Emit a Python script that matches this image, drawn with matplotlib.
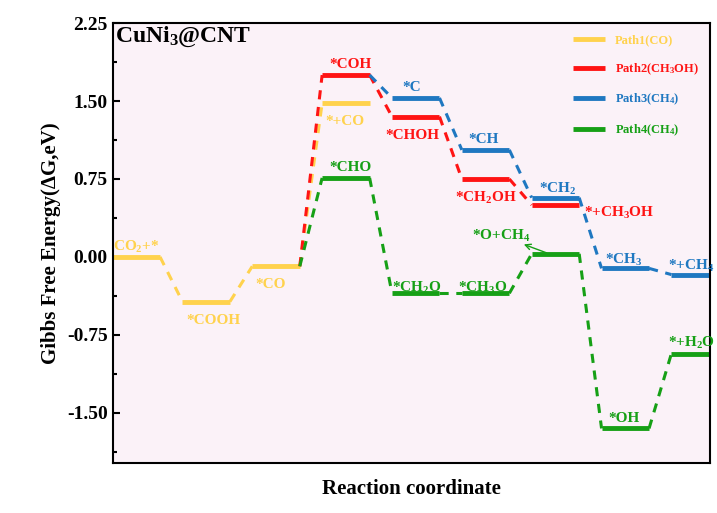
import matplotlib.pyplot as plt

plt.rcParams['font.family'] = 'Liberation Serif'
plt.rcParams['font.weight'] = 'bold'
plt.rcParams['axes.labelweight'] = 'bold'
plt.rcParams['axes.unicode_minus'] = False
plt.rcParams['mathtext.fontset'] = 'custom'
plt.rcParams['mathtext.rm'] = 'Liberation Serif:bold'
plt.rcParams['mathtext.it'] = 'Liberation Serif:bold'
plt.rcParams['mathtext.bf'] = 'Liberation Serif:bold'

# slot index of each level, energies (eV), labels
path1_slots = [0, 1, 2, 3]
path1_vals = [0.00, -0.43, -0.09, 1.48]
path1_labels = ['CO$_2$+*', '*COOH', '*CO', '*+CO']

path2_slots = [2, 3, 4, 5, 6]
path2_vals = [-0.09, 1.75, 1.35, 0.75, 0.50]
path2_labels = [None, '*COH', '*CHOH', '*CH$_2$OH', '*+CH$_3$OH']

path3_slots = [3, 4, 5, 6, 7, 8]
path3_vals = [1.75, 1.53, 1.03, 0.57, -0.11, -0.17]
path3_labels = [None, '*C', '*CH', '*CH$_2$', '*CH$_3$', '*+CH$_4$']

path4_slots = [2, 3, 4, 5, 6, 7, 8]
path4_vals = [-0.09, 0.76, -0.35, -0.35, 0.03, -1.65, -0.93]
path4_labels = [None, '*CHO', '*CH$_2$O', '*CH$_3$O', '*O+CH$_4$', '*OH', '*+H$_2$O']

colors = ['#ffd24d', '#ff1414', '#1f78c1', '#16a016']
names = ['Path1(CO)', 'Path2(CH$_3$OH)', 'Path3(CH$_4$)', 'Path4(CH$_4$)']
W = 0.68

# label offsets (dx, dy) relative to level start / value
offs = {
    'CO$_2$+*': (0.0, 0.10), '*COOH': (0.05, -0.18), '*CO': (0.05, -0.18), '*+CO': (0.05, -0.18),
    '*COH': (0.1, 0.10), '*CHOH': (-0.1, -0.18), '*CH$_2$OH': (-0.1, -0.18), '*+CH$_3$OH': (0.75, -0.08),
    '*C': (0.15, 0.10), '*CH': (0.1, 0.10), '*CH$_2$': (0.1, 0.08), '*CH$_3$': (0.05, 0.08),
    '*+CH$_4$': (-0.05, 0.08),
    '*CHO': (0.1, 0.10), '*CH$_2$O': (0.0, 0.05), '*CH$_3$O': (-0.05, 0.05), '*O+CH$_4$': (-0.85, 0.17),
    '*OH': (0.1, 0.10), '*+H$_2$O': (-0.05, 0.10),
}

fig, ax = plt.subplots(figsize=(7.17, 5.13), dpi=100)
fig.subplots_adjust(left=0.157, right=0.99, top=0.955, bottom=0.098)
ax.set_facecolor('#fbf2f8')

paths = [(path1_slots, path1_vals, path1_labels), (path2_slots, path2_vals, path2_labels),
         (path3_slots, path3_vals, path3_labels), (path4_slots, path4_vals, path4_labels)]
for (slots, vals, labs), c, nm in zip(paths, colors, names):
    for i, (s, v, lb) in enumerate(zip(slots, vals, labs)):
        if lb is not None or i > 0:
            ax.plot([s, s + W], [v, v], color=c, lw=3.5, solid_capstyle='butt',
                    label=nm if i == len(slots) - 1 else None)
        if i > 0:
            ax.plot([slots[i - 1] + W, s], [vals[i - 1], v], color=c, lw=2.2, ls=(0, (3, 2.5)))
        if lb is not None:
            dx, dy = offs[lb]
            ax.text(s + dx, v + dy, lb, color=c, fontsize=11, va='center', fontweight='bold')

ax.annotate('', xy=(5.85, 0.13), xytext=(6.25, 0.03),
            arrowprops=dict(arrowstyle='->', color=colors[3], lw=1))

ax.text(0.03, 2.12, 'CuNi$_3$@CNT', fontsize=17, va='center', fontweight='bold')
leg = ax.legend(loc='upper right', frameon=False, fontsize=9, handlelength=2.5, labelspacing=1.2,
                labelcolor='linecolor', prop={'weight': 'bold', 'size': 9})

ax.set_xlim(0, 8.55)
ax.set_ylim(-1.98, 2.25)
ax.set_yticks([-1.5, -0.75, 0, 0.75, 1.5, 2.25])
ax.set_yticklabels(['-1.50', '-0.75', '0.00', '0.75', '1.50', '2.25'], fontweight='bold')
ax.set_yticks([-1.875, -1.125, -0.375, 0.375, 1.125, 1.875], minor=True)
ax.set_xticks([])
ax.tick_params(axis='y', labelsize=14, direction='in', width=1.5, length=5)
ax.tick_params(axis='y', which='minor', direction='in', width=1.5, length=3)
for sp in ax.spines.values():
    sp.set_linewidth(1.5)
ax.set_ylabel('Gibbs Free Energy(ΔG,eV)', fontsize=15, fontweight='bold')
ax.set_xlabel('Reaction coordinate', fontsize=15, labelpad=12, fontweight='bold')

fig.savefig('out.png')
